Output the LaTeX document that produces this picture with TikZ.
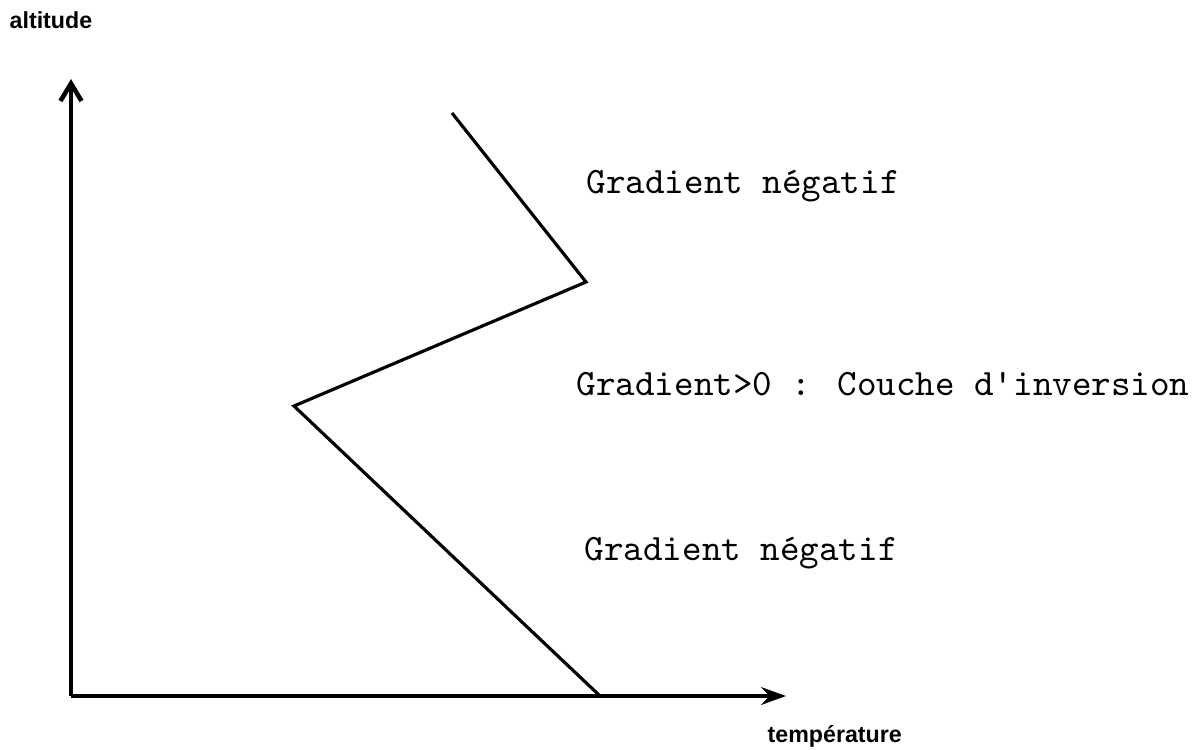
\documentclass[tikz,border=0pt]{standalone}
\usepackage{fontspec}
\usepackage{tikz}
\usetikzlibrary{arrows.meta}
\newfontfamily\labelfont{Liberation Sans}

\begin{document}
\begin{tikzpicture}[
    axis/.style={line width=1.3pt},
    profile/.style={line width=0.9pt, line join=miter},
    zone/.style={anchor=base west, inner sep=0pt, font=\ttfamily\fontsize{10.6}{12}\selectfont},
    axislabel/.style={anchor=base west, inner sep=0pt, font=\labelfont\bfseries\fontsize{6.6}{8}\selectfont}
  ]
    \useasboundingbox (0,0) rectangle (11.97,7.49);
    % axes
    \coordinate (O) at (0.71,0.53);
    \coordinate (Ytop) at (0.71,6.70);
    \coordinate (Xend) at (7.86,0.53);
    \draw[axis,-{Straight Barb[length=5pt,width=6pt]}] (O)--(Ytop);
    \draw[axis,-{Stealth[length=7pt,width=5pt]}] (O)--(Xend);
    \node[axislabel] (alt) at (0.09,7.21) {altitude};
    \node[axislabel] (temp) at (7.67,0.07) {température};
    % temperature profile
    \coordinate (P0) at (4.52,6.36);
    \coordinate (P1) at (5.86,4.67);
    \coordinate (P2) at (2.94,3.43);
    \coordinate (P3) at (5.99,0.54);
    \draw[profile] (P0)--(P1)--(P2)--(P3);
    \node[zone] (top) at (5.86,5.56) {Gradient négatif};
    \node[zone] (inv) at (5.76,3.54) {Gradient>0 : Couche d'inversion};
    \node[zone] (bot) at (5.84,1.89) {Gradient négatif};

\end{tikzpicture}
\end{document}
